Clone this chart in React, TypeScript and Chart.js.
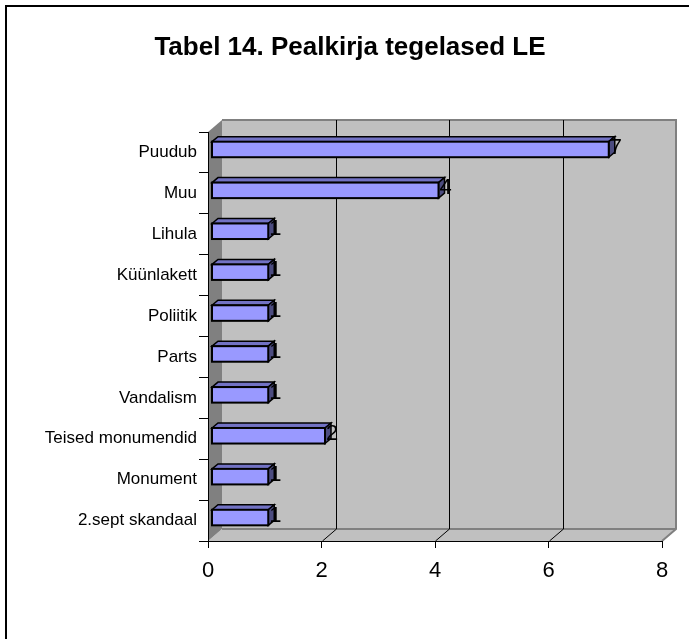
import React, { useEffect, useRef } from 'react';
import { Chart, registerables } from 'chart.js';

Chart.register(...registerables);

const categories = ['Puudub', 'Muu', 'Lihula', 'Küünlakett', 'Poliitik', 'Parts', 'Vandalism', 'Teised monumendid', 'Monument', '2.sept skandaal'];
const values = [7, 4, 1, 1, 1, 1, 1, 2, 1, 1];
const gridValues = [2, 4, 6];
const chartTitle = 'Tabel 14. Pealkirja tegelased LE';

const FONT = '"Liberation Sans", Arial, Helvetica, sans-serif';
const DX = 14, DY = -12;
const BFX = 3.5, BFY = -3;
const BDX = 6, BDY = -5;

const excel3d = {
  id: 'excel3d',
  beforeDraw(chart: any) {
    const ctx = chart.ctx;
    const { left, right, top, bottom } = chart.chartArea;
    const xs = chart.scales.x;
    ctx.save();
    ctx.fillStyle = '#ffffff';
    ctx.fillRect(0, 0, chart.width, chart.height);
    ctx.strokeStyle = '#000';
    ctx.lineWidth = 2;
    ctx.strokeRect(6, 6, chart.width + 40, chart.height + 40);
    ctx.fillStyle = '#000';
    ctx.font = 'bold 26px ' + FONT;
    ctx.textAlign = 'center';
    ctx.textBaseline = 'middle';
    ctx.fillText(chartTitle, 350, 48);

    // back wall
    ctx.fillStyle = '#C0C0C0';
    ctx.fillRect(left + DX, top + DY, right - left, bottom - top);
    // floor
    ctx.beginPath();
    ctx.moveTo(left, bottom);
    ctx.lineTo(left + DX, bottom + DY);
    ctx.lineTo(right + DX, bottom + DY);
    ctx.lineTo(right, bottom);
    ctx.closePath();
    ctx.fillStyle = '#C0C0C0';
    ctx.fill();
    // left wall
    ctx.beginPath();
    ctx.moveTo(left, top);
    ctx.lineTo(left + DX, top + DY);
    ctx.lineTo(left + DX, bottom + DY);
    ctx.lineTo(left, bottom);
    ctx.closePath();
    ctx.fillStyle = '#808080';
    ctx.fill();

    // wall outlines
    ctx.strokeStyle = '#808080';
    ctx.lineWidth = 2;
    ctx.beginPath();
    ctx.moveTo(left + DX, top + DY);
    ctx.lineTo(right + DX, top + DY);
    ctx.lineTo(right + DX, bottom + DY);
    ctx.lineTo(right, bottom);
    ctx.moveTo(left + DX, bottom + DY);
    ctx.lineTo(right + DX, bottom + DY);
    ctx.stroke();

    // grid lines
    ctx.strokeStyle = '#000';
    ctx.lineWidth = 1;
    ctx.beginPath();
    gridValues.forEach((v) => {
      const px = Math.round(xs.getPixelForValue(v)) + 0.5;
      ctx.moveTo(px + DX, top + DY);
      ctx.lineTo(px + DX, bottom + DY);
      ctx.moveTo(px, bottom);
      ctx.lineTo(px + DX, bottom + DY);
    });
    ctx.stroke();
    ctx.restore();
  },
  afterDatasetsDraw(chart: any) {
    const ctx = chart.ctx;
    const meta = chart.getDatasetMeta(0);
    ctx.save();
    meta.data.forEach((el: any, i: number) => {
      const x0 = el.base + BFX;
      const x1 = el.x + BFX;
      const yc = el.y + BFY;
      const h = el.height;
      const y0 = yc - h / 2;
      const y1 = yc + h / 2;
      // top face
      ctx.beginPath();
      ctx.moveTo(x0, y0);
      ctx.lineTo(x0 + BDX, y0 + BDY);
      ctx.lineTo(x1 + BDX, y0 + BDY);
      ctx.lineTo(x1, y0);
      ctx.closePath();
      ctx.fillStyle = '#7272C4';
      ctx.fill();
      ctx.strokeStyle = '#000';
      ctx.lineWidth = 1.5;
      ctx.stroke();
      // end face
      ctx.beginPath();
      ctx.moveTo(x1, y0);
      ctx.lineTo(x1 + BDX, y0 + BDY);
      ctx.lineTo(x1 + BDX, y1 + BDY);
      ctx.lineTo(x1, y1);
      ctx.closePath();
      ctx.fillStyle = '#4C4C80';
      ctx.fill();
      ctx.stroke();
      // front face
      ctx.fillStyle = '#9999FF';
      ctx.fillRect(x0, y0, x1 - x0, y1 - y0);
      ctx.lineWidth = 2;
      ctx.strokeRect(x0, y0, x1 - x0, y1 - y0);
      // value label over the bar end
      ctx.fillStyle = '#000';
      ctx.font = '22px ' + FONT;
      ctx.textAlign = 'left';
      ctx.textBaseline = 'middle';
      ctx.fillText(String(values[i]), x1 + 1, yc - 2);
    });
    ctx.restore();
  },
};

export default function App() {
  const ref = useRef<HTMLCanvasElement>(null);
  useEffect(() => {
    document.body.style.margin = '0';
    const chart = new Chart(ref.current!, {
      type: 'bar',
      data: {
        labels: categories,
        datasets: [
          {
            data: values,
            backgroundColor: 'rgba(0,0,0,0)',
            borderWidth: 0,
            barPercentage: 0.38,
            categoryPercentage: 1,
          },
        ],
      },
      options: {
        indexAxis: 'y',
        responsive: false,
        animation: false,
        devicePixelRatio: 1,
        layout: { padding: { left: 0, right: 27, top: 132, bottom: 0 } },
        plugins: { legend: { display: false }, tooltip: { enabled: false }, title: { display: false } },
        scales: {
          x: {
            min: 0,
            max: 8,
            ticks: { stepSize: 2, color: '#000', font: { size: 22, family: FONT }, padding: 10 },
            grid: { drawOnChartArea: false, drawTicks: true, tickLength: 7, color: '#000' },
            border: { display: true, color: '#000', width: 1 },
            afterFit: (s: any) => { s.height = 98; },
          },
          y: {
            ticks: { color: '#000', font: { size: 17, family: FONT }, padding: 2, autoSkip: false },
            grid: { drawOnChartArea: false, drawTicks: true, tickLength: 9, color: '#000', offset: true },
            border: { display: true, color: '#000', width: 1 },
            afterFit: (s: any) => { s.width = 208; },
          },
        },
      },
      plugins: [excel3d],
    });
    return () => chart.destroy();
  }, []);
  return <canvas ref={ref} width={689} height={639} style={{ display: 'block', width: 689, height: 639 }} />;
}
